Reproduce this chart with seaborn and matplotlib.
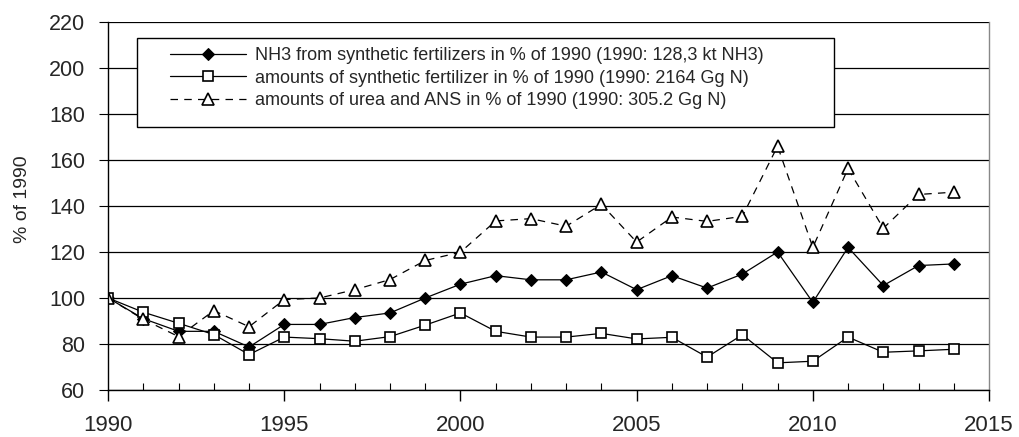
import matplotlib
matplotlib.use("Agg")
import matplotlib.pyplot as plt
from matplotlib.ticker import MultipleLocator
from matplotlib.patches import Rectangle
import seaborn as sns
import pandas as pd

years = list(range(1990, 2015))
nh3 = [100, 91, 85.5, 85.5, 78.7, 88.5, 88.5, 91.5, 93.5, 100, 106, 109.7, 107.9, 107.9,
       111.3, 103.6, 109.7, 104.3, 110.4, 120, 98.1, 122, 105.4, 114.1, 114.8]
fert = [100, 93.8, 89, 84.1, 75.4, 83, 82.3, 81.2, 83.2, 88.2, 93.5, 85.5, 83, 83,
        84.6, 82.2, 82.9, 74.3, 84, 71.8, 72.5, 83, 76.4, 77, 77.7]
urea = [100, 90.7, 83.2, 94.5, 87.5, 99.3, 100, 103.6, 108, 116.3, 119.9, 133.5, 134.5,
        131.2, 140.7, 124.3, 135.2, 133.3, 135.5, 166, 122, 156.3, 130.3, 145, 146]
labels = ["NH3 from synthetic fertilizers in % of 1990 (1990: 128,3 kt NH3)",
          "amounts of synthetic fertilizer in % of 1990 (1990: 2164 Gg N)",
          "amounts of urea and ANS in % of 1990 (1990: 305.2 Gg N)"]
y_label = "% of 1990"

sns.set_style("white")
plt.rcParams['font.family'] = ['Liberation Sans', 'DejaVu Sans']

fig = plt.figure(figsize=(10.2, 4.37), dpi=100)
ax = fig.add_axes([0.106, 0.1076, 0.8636, 0.8421])

df = pd.DataFrame({"year": years, "nh3": nh3, "fert": fert, "urea": urea})

for yi in range(60, 221, 20):
    ax.axhline(yi, color="black", lw=0.9, zorder=0)

sns.lineplot(data=df, x="year", y="nh3", ax=ax, color="black", lw=0.9,
             marker="D", markersize=6.6, markerfacecolor="black", markeredgecolor="black",
             label=labels[0])
sns.lineplot(data=df, x="year", y="fert", ax=ax, color="black", lw=0.9,
             marker="s", markersize=7.8, markerfacecolor="white", markeredgecolor="black",
             markeredgewidth=1.2, label=labels[1])
sns.lineplot(data=df, x="year", y="urea", ax=ax, color="black", lw=0.9,
             linestyle=(0, (6, 5)), marker="^", markersize=8.8, markerfacecolor="white",
             markeredgecolor="black", markeredgewidth=1.2, label=labels[2])

ax.set_xlim(1990, 2015)
ax.set_ylim(60, 220)
ax.xaxis.set_major_locator(MultipleLocator(5))
ax.xaxis.set_minor_locator(MultipleLocator(1))
ax.yaxis.set_major_locator(MultipleLocator(20))
ax.tick_params(axis="x", which="major", direction="out", length=8, width=1,
               labelsize=16, pad=10, bottom=True, color="black")
ax.tick_params(axis="x", which="minor", direction="in", length=5, width=0.8,
               bottom=True, color="black")
ax.tick_params(axis="y", which="major", direction="out", length=6.5, width=0.8,
               labelsize=15.5, pad=10, left=True, color="black")
ax.set_xlabel("")
ax.set_ylabel(y_label, fontsize=14)
ax.yaxis.set_label_coords(-0.088, 0.519)

for side in ["left", "bottom"]:
    ax.spines[side].set_color("black")
    ax.spines[side].set_linewidth(1)
ax.spines["top"].set_visible(False)
ax.spines["right"].set_color("#888888")
ax.spines["right"].set_linewidth(1)

box = Rectangle((0.0329, 0.7147), 0.791, 0.2418, transform=ax.transAxes,
                facecolor="white", edgecolor="black", lw=1, zorder=4.5)
ax.add_patch(box)

leg = ax.legend(loc="upper left", bbox_to_anchor=(0.0704, 0.931), fontsize=13,
                frameon=False, handlelength=4.2, labelspacing=0.3, borderpad=0,
                handletextpad=0.5, borderaxespad=0)
leg.set_zorder(5)

fig.savefig("out.png", dpi=100)
